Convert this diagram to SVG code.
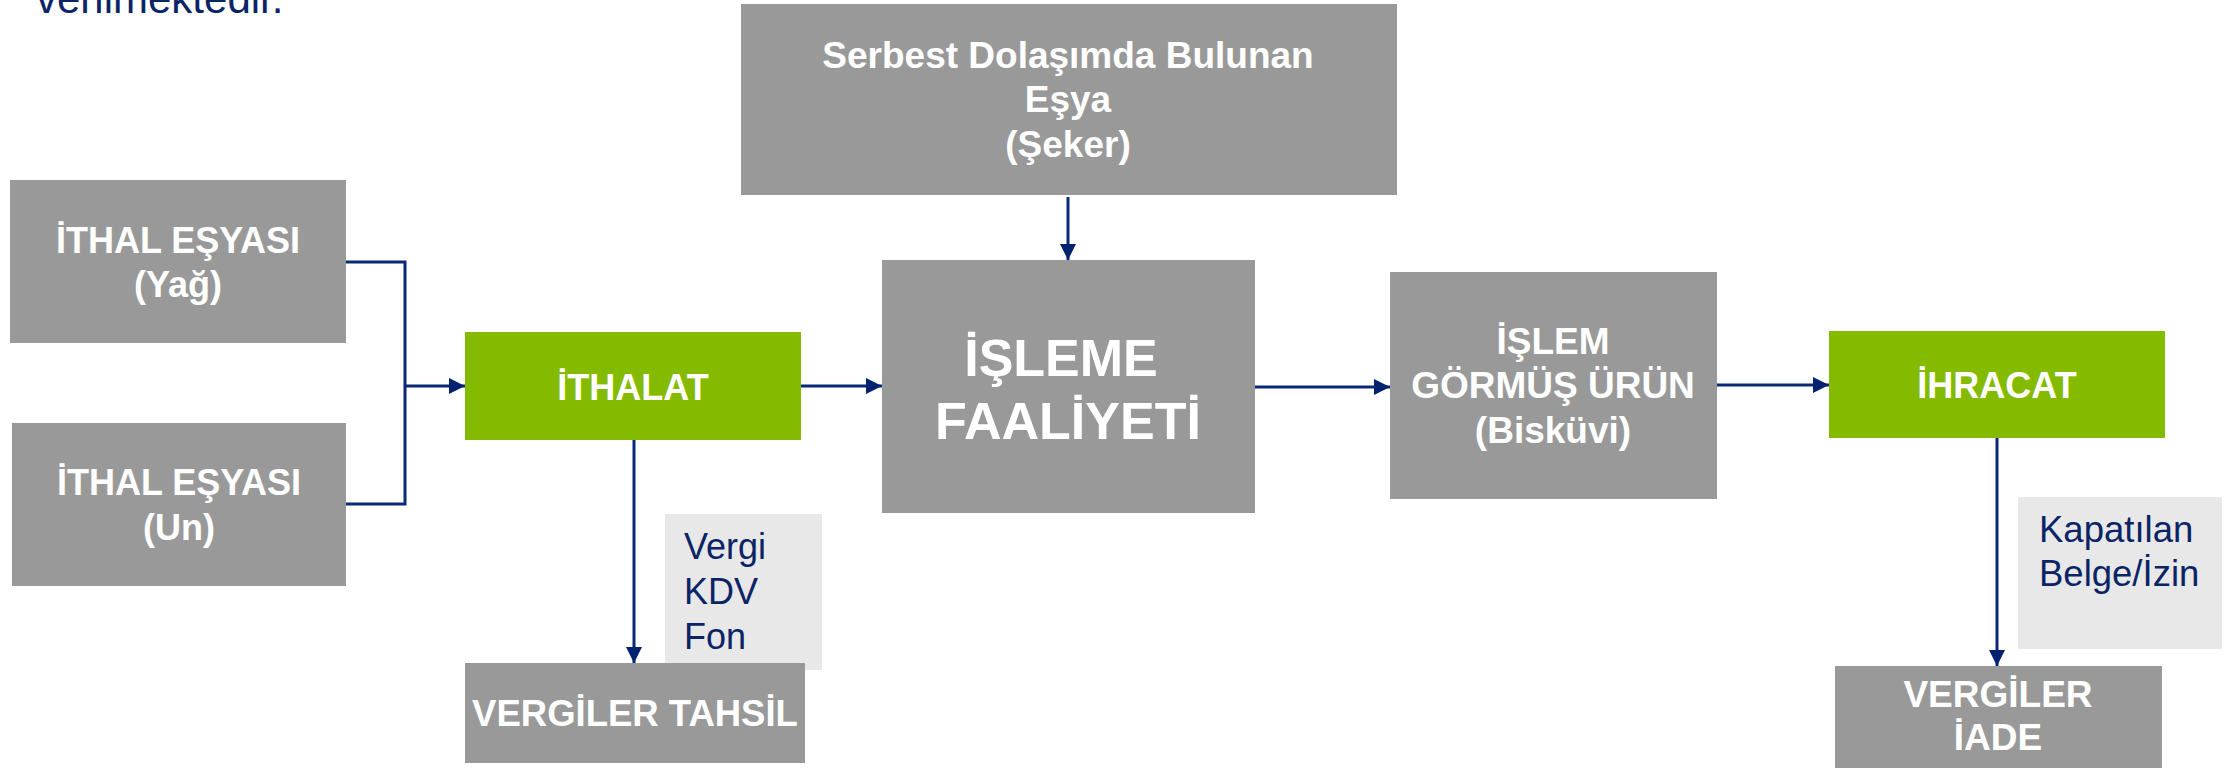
<svg xmlns="http://www.w3.org/2000/svg" width="2228" height="768" viewBox="0 0 2228 768">
  <style>
    .gray { fill: #999999; }
    .green { fill: #84bb00; }
    .note { fill: #e8e8e8; }
    .lbl { font-family: "Liberation Sans", Arial, sans-serif; font-weight: bold; fill: #ffffff; text-anchor: middle; }
    .nav { font-family: "Liberation Sans", Arial, sans-serif; fill: #0a2466; }
    .conn { fill: none; stroke: #0b2877; stroke-width: 3; }
  </style>
  <defs>
    <marker id="arr" markerUnits="userSpaceOnUse" markerWidth="16" markerHeight="16" refX="16" refY="8" orient="auto">
      <path d="M0,0 L16,8 L0,16 z" fill="#002270"/>
    </marker>
  </defs>
  <rect width="2228" height="768" fill="#ffffff"/>

  <text class="nav" x="36" y="13" font-size="42">verilmektedir.</text>

  <g id="ithal-yag">
    <rect class="gray" x="10" y="180" width="336" height="163"/>
    <text class="lbl" x="178" y="253" font-size="36">İTHAL EŞYASI</text>
    <text class="lbl" x="178" y="297" font-size="36">(Yağ)</text>
  </g>
  <g id="ithal-un">
    <rect class="gray" x="12" y="423" width="334" height="163"/>
    <text class="lbl" x="179" y="495" font-size="36">İTHAL EŞYASI</text>
    <text class="lbl" x="179" y="540" font-size="36">(Un)</text>
  </g>
  <g id="ithalat">
    <rect class="green" x="465" y="332" width="336" height="108"/>
    <text class="lbl" x="633" y="400" font-size="36">İTHALAT</text>
  </g>
  <g id="vergi-note">
    <rect class="note" x="665" y="514" width="157" height="156"/>
    <text class="nav" x="684" y="559" font-size="36">Vergi</text>
    <text class="nav" x="684" y="604" font-size="36">KDV</text>
    <text class="nav" x="684" y="649" font-size="36">Fon</text>
  </g>
  <g id="vergiler-tahsil">
    <rect class="gray" x="465" y="663" width="340" height="100"/>
    <text class="lbl" x="635" y="726" font-size="36.5">VERGİLER TAHSİL</text>
  </g>
  <g id="serbest">
    <rect class="gray" x="741" y="4" width="656" height="191"/>
    <text class="lbl" x="1068" y="68" font-size="37">Serbest Dolaşımda Bulunan</text>
    <text class="lbl" x="1068" y="112" font-size="37">Eşya</text>
    <text class="lbl" x="1068" y="157" font-size="37">(Şeker)</text>
  </g>
  <g id="isleme">
    <rect class="gray" x="882" y="260" width="373" height="253"/>
    <text class="lbl" x="1061" y="376" font-size="52">İŞLEME</text>
    <text class="lbl" x="1068" y="439" font-size="52">FAALİYETİ</text>
  </g>
  <g id="islem-gormus">
    <rect class="gray" x="1390" y="272" width="327" height="227"/>
    <text class="lbl" x="1553" y="354" font-size="37">İŞLEM</text>
    <text class="lbl" x="1553" y="398" font-size="37">GÖRMÜŞ ÜRÜN</text>
    <text class="lbl" x="1553" y="443" font-size="37">(Bisküvi)</text>
  </g>
  <g id="ihracat">
    <rect class="green" x="1829" y="331" width="336" height="107"/>
    <text class="lbl" x="1997" y="398" font-size="36">İHRACAT</text>
  </g>
  <g id="kapatilan-note">
    <rect class="note" x="2018" y="497" width="204" height="152"/>
    <text class="nav" x="2039" y="542" font-size="36.5">Kapatılan</text>
    <text class="nav" x="2039" y="586" font-size="36.5">Belge/İzin</text>
  </g>
  <g id="vergiler-iade">
    <rect class="gray" x="1835" y="666" width="327" height="102"/>
    <text class="lbl" x="1998" y="707" font-size="37">VERGİLER</text>
    <text class="lbl" x="1998" y="750" font-size="37">İADE</text>
  </g>

  <g id="connectors">
    <path class="conn" d="M346,262 H405 V504 H346"/>
    <path class="conn" d="M405,386 H465" marker-end="url(#arr)"/>
    <path class="conn" d="M801,386 H882" marker-end="url(#arr)"/>
    <path class="conn" d="M634,440 V663" marker-end="url(#arr)"/>
    <path class="conn" d="M1068,197 V260" marker-end="url(#arr)"/>
    <path class="conn" d="M1255,387 H1390" marker-end="url(#arr)"/>
    <path class="conn" d="M1717,385 H1829" marker-end="url(#arr)"/>
    <path class="conn" d="M1997,438 V666" marker-end="url(#arr)"/>
  </g>
</svg>
